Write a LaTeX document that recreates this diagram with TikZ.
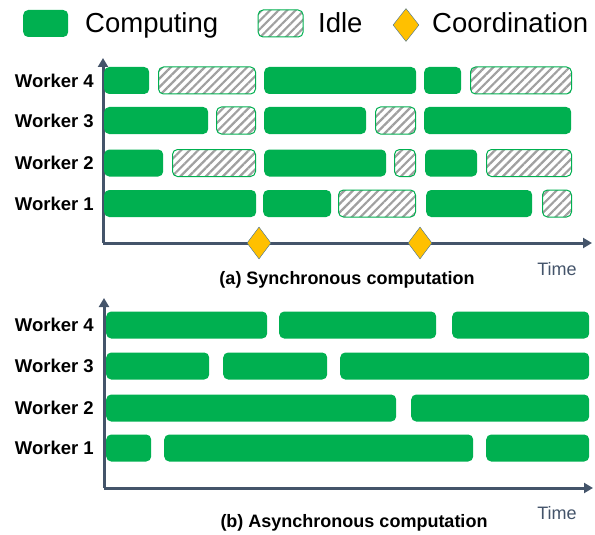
\documentclass[tikz,border=0pt]{standalone}
\usepackage{fontspec}
\setmainfont{Liberation Sans}
\usetikzlibrary{arrows.meta,patterns.meta,shapes.geometric}

\definecolor{compgreen}{RGB}{0,176,80}
\definecolor{axisgray}{RGB}{68,84,106}
\definecolor{hatchgray}{RGB}{160,160,160}
\definecolor{syncyellow}{RGB}{255,192,0}
\definecolor{syncblue}{RGB}{65,113,156}

\tikzset{
  comp/.style={fill=compgreen,rounded corners=5pt,anchor=west,minimum height=27pt,inner sep=0pt},
  idle/.style={draw=compgreen,line width=1pt,rounded corners=5pt,anchor=west,minimum height=27pt,inner sep=0pt,
    pattern={Lines[angle=45,distance=6pt,line width=2.2pt]},pattern color=hatchgray},
  sync/.style={diamond,draw=syncblue,fill=syncyellow,minimum width=24pt,minimum height=32pt,inner sep=0pt},
  axis/.style={draw=axisgray,line width=3pt,-{Triangle[length=9pt,width=10pt]}},
  worker/.style={anchor=east,inner sep=0pt,font=\fontsize{18.5}{20}\selectfont\bfseries},
  legend/.style={anchor=base west,inner sep=0pt,font=\fontsize{27.5}{30}\selectfont},
  caption/.style={inner sep=0pt,font=\fontsize{18}{20}\selectfont\bfseries},
  timelabel/.style={inner sep=0pt,text=axisgray,font=\fontsize{18}{20}\selectfont}
}

\begin{document}
\begin{tikzpicture}[x=1pt,y=-1pt]

      \useasboundingbox (0,0) rectangle (595,535);

      \node[comp,minimum width=45pt] (lc) at (23,23.5) {};
      \node[legend] (lct) at (85,33) {Computing};
      \node[idle,minimum width=45pt] (li) at (257,23.5) {};
      \node[legend] (lit) at (318,33) {Idle};
      \node[sync,minimum width=26pt,minimum height=33pt] (ld) at (406,25) {};
      \node[legend] (ldt) at (432,33) {Coordination};

      \coordinate (o1) at (103,243);
      \coordinate (y1) at (103,58);
      \coordinate (x1) at (592,243);
      \coordinate (o2) at (104,488);
      \coordinate (y2) at (104,298);
      \coordinate (x2) at (593,488);
      \path[axis] (o1) -- (y1);
      \path[axis] (o1) -- (x1);
      \path[axis] (o2) -- (y2);
      \path[axis] (o2) -- (x2);

      \begin{scope}[every node/.style={worker}]
        \node (sw4) at (94,80.5)  {Worker 4};
        \node (sw3) at (94,120.5) {Worker 3};
        \node (sw2) at (94,163)   {Worker 2};
        \node (sw1) at (94,203.5) {Worker 1};
        \node (aw4) at (94,325)   {Worker 4};
        \node (aw3) at (94,366)   {Worker 3};
        \node (aw2) at (94,408)   {Worker 2};
        \node (aw1) at (94,448)   {Worker 1};
      \end{scope}

      \begin{scope}[every node/.style={comp}]
        \node[minimum width=45pt]  (s41) at (104,80.5) {};
        \node[minimum width=152pt] (s43) at (264,80.5) {};
        \node[minimum width=37pt]  (s44) at (424,80.5) {};
        \node[minimum width=104pt] (s31) at (104,120.5) {};
        \node[minimum width=102pt] (s33) at (264,120.5) {};
        \node[minimum width=147pt] (s35) at (424,120.5) {};
        \node[minimum width=59pt]  (s21) at (104,163) {};
        \node[minimum width=122pt] (s23) at (264,163) {};
        \node[minimum width=52pt]  (s25) at (425,163) {};
        \node[minimum width=152pt] (s11) at (104,203.5) {};
        \node[minimum width=68pt]  (s12) at (263,203.5) {};
        \node[minimum width=106pt] (s14) at (426,203.5) {};

        \node[minimum width=161pt] (a41) at (106,325) {};
        \node[minimum width=157pt] (a42) at (279,325) {};
        \node[minimum width=137pt] (a43) at (452,325) {};
        \node[minimum width=103pt] (a31) at (106,366) {};
        \node[minimum width=104pt] (a32) at (223,366) {};
        \node[minimum width=249pt] (a33) at (340,366) {};
        \node[minimum width=290pt] (a21) at (106,408) {};
        \node[minimum width=178pt] (a22) at (411,408) {};
        \node[minimum width=45pt]  (a11) at (106,448) {};
        \node[minimum width=309pt] (a12) at (164,448) {};
        \node[minimum width=103pt] (a13) at (486,448) {};
      \end{scope}

      \begin{scope}[every node/.style={idle}]
        \node[minimum width=97pt]  (s42) at (158,80.5) {};
        \node[minimum width=101pt] (s45) at (470,80.5) {};
        \node[minimum width=39pt]  (s32) at (216,120.5) {};
        \node[minimum width=40pt]  (s34) at (375,120.5) {};
        \node[minimum width=83pt]  (s22) at (172,163) {};
        \node[minimum width=21pt]  (s24) at (394,163) {};
        \node[minimum width=85pt]  (s26) at (486,163) {};
        \node[minimum width=77pt]  (s13) at (338,203.5) {};
        \node[minimum width=29pt]  (s15) at (542,203.5) {};
      \end{scope}

      \begin{scope}[every node/.style={sync}]
        \node (c1) at (259,243) {};
        \node (c2) at (420,243) {};
      \end{scope}

      \node[timelabel] (t1) at (557,269) {Time};
      \node[timelabel] (t2) at (557,513) {Time};
      \node[caption] (cap1) at (347,280) {(a) Synchronous computation};
      \node[caption] (cap2) at (354,523) {(b) Asynchronous computation};

    \end{tikzpicture}
\end{document}
